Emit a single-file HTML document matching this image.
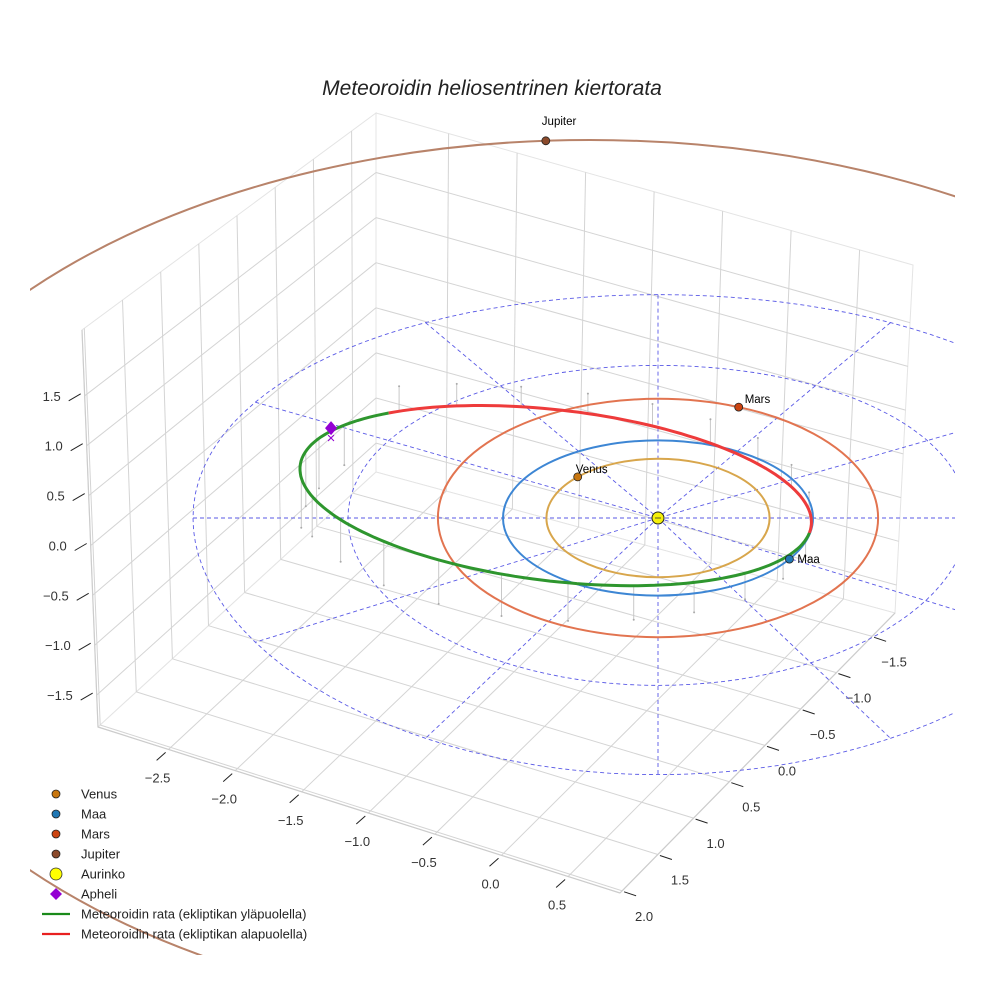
<!DOCTYPE html>
<html><head><meta charset="utf-8"><style>
html,body{margin:0;padding:0;background:#fff;}
svg{display:block;font-family:"Liberation Sans",sans-serif;}
</style></head><body>
<svg id="chart" width="984" height="984" viewBox="0 0 984 984" xmlns="http://www.w3.org/2000/svg">
<defs><clipPath id="axclip"><rect x="30" y="0" width="925" height="955"/></clipPath></defs>
<rect x="0" y="0" width="984" height="984" fill="#fff"/>
<text x="492" y="95" text-anchor="middle" font-size="21" font-style="italic" fill="#222">Meteoroidin heliosentrinen kiertorata</text>
<g id="grid"></g>
<g id="ticks"></g>
<g id="plot" clip-path="url(#axclip)"></g>
<g id="legend"></g>
</svg>
<script>
// ---- data ----
const xTicks = [-2.5, -2.0, -1.5, -1.0, -0.5, 0.0, 0.5];
const yTicks = [2.0, 1.5, 1.0, 0.5, 0.0, -0.5, -1.0, -1.5];
const zTicks = [-1.5, -1.0, -0.5, 0.0, 0.5, 1.0, 1.5];
const planetNames = ["Venus", "Maa", "Mars"];
const planetRx = [0.72, 1.0, 1.42];      // AU (projected semi-axis x)
const planetRy = [0.74, 0.97, 1.49];     // AU (projected semi-axis y)
const planetAngles = [224, 32, -68.5];   // degrees
const planetColors = ["#c8760f", "#1f77b4", "#cc4411"];
const orbitColors = ["#d8a64c", "#3d86d4", "#e27450"];
const gridRadii = [2, 3];
const spokeAngles = [0, 30, 60, 90, 120, 150];
const jupiterAngle = -93.4;
const meteorCenter = [-0.66, -0.28];     // AU
const meteorAxes = [1.66, 1.08];         // AU
const meteorTilt = 6.7;                  // degrees
const meteorRedRange = [227, 365];       // degrees of orbit below ecliptic
const stemAngles = [190,200,212,230,245,260,275,290,305,320,335,350,10,25,40,55,70,85,100,115,130,145,160,172];
const stemLengths = [55,50,40,-25,-22,-20,-20,-22,-24,-26,-22,-18,16,20,26,30,34,38,42,44,44,42,40,50];
const legendLabels = ["Venus","Maa","Mars","Jupiter","Aurinko","Apheli","Meteoroidin rata (ekliptikan yläpuolella)","Meteoroidin rata (ekliptikan alapuolella)"];

// ---- geometry ----
const NS="http://www.w3.org/2000/svg";
const SUN=[658,518], SX=155, SY=80;
function mk(tag, attrs, parent){const e=document.createElementNS(NS,tag);for(const k in attrs)e.setAttribute(k,attrs[k]);parent.appendChild(e);return e;}
function px(X){return SUN[0]+X*SX;}
function py(Y){return SUN[1]+Y*SY;}
function ecl(r,a){const c=Math.cos(a*Math.PI/180),s=Math.sin(a*Math.PI/180);
  return [px(r*c), py(r*s)+1.85*r*r*s*s];}
const L0=[98,727],F0=[620,893],R0=[895,613],B0=[376,472],L1=[82,330],B1=[376,113],R1=[913,265];
const XMIN=-3.03,XMAX=0.89,YMAX=2.03,YMIN=-1.82,ZMIN=-1.82,ZMAX=2.16;
function lerp(a,b,t){return [a[0]+(b[0]-a[0])*t,a[1]+(b[1]-a[1])*t];}
function ux(x){return (x-XMIN)/(XMAX-XMIN);}
function vy(y){return (YMAX-y)/(YMAX-YMIN);}
function wz(z){return (z-ZMIN)/(ZMAX-ZMIN);}

const grid=document.getElementById('grid');
const ticks=document.getElementById('ticks');
const plot=document.getElementById('plot');
const legend=document.getElementById('legend');
const GC="#d4d4d4";
function seg(p,q,attrs,parent,name){const l=mk('line',Object.assign({x1:p[0].toFixed(1),y1:p[1].toFixed(1),x2:q[0].toFixed(1),y2:q[1].toFixed(1)},attrs),parent);


return l;}

[[L0,B0,B1,L1],[B0,R0,R1,B1],[L0,F0,R0,B0]].forEach((q,i)=>{
  const p=mk('polygon',{points:q.map(a=>a.join(',')).join(' '),fill:'#fff',stroke:'#e4e4e4','stroke-width':1},grid);
  
  
});
xTicks.forEach(x=>{const u=ux(x);
  seg(lerp(L0,F0,u),lerp(B0,R0,u),{stroke:GC,'stroke-width':1},grid,'x-gridline');
  seg(lerp(B0,R0,u),lerp(B1,R1,u),{stroke:GC,'stroke-width':1},grid,'x-gridline');});
yTicks.forEach(y=>{const v=vy(y);
  seg(lerp(L0,B0,v),lerp(F0,R0,v),{stroke:GC,'stroke-width':1},grid,'y-gridline');
  seg(lerp(L0,B0,v),lerp(L1,B1,v),{stroke:GC,'stroke-width':1},grid,'y-gridline');});
zTicks.forEach(z=>{const w=wz(z);
  seg(lerp(L0,L1,w),lerp(B0,B1,w),{stroke:GC,'stroke-width':1},grid,'z-gridline');
  seg(lerp(B0,B1,w),lerp(R0,R1,w),{stroke:GC,'stroke-width':1},grid,'z-gridline');});
seg(L0,F0,{stroke:'#ccc','stroke-width':1.2},grid,'x-axis-line');
seg(F0,R0,{stroke:'#ccc','stroke-width':1.2},grid,'y-axis-line');
seg(L0,L1,{stroke:'#ccc','stroke-width':1.2},grid,'z-axis-line');

function lab(x,y,t,anchor,name){const e=mk('text',{x:x.toFixed(1),y:y.toFixed(1),'font-size':13,fill:'#333','text-anchor':anchor},ticks);e.textContent=t;

}
function fmt(v){return (v<0?'\u2212':'')+Math.abs(v).toFixed(1);}
xTicks.forEach(x=>{const p=lerp(L0,F0,ux(x));
  seg([p[0]-3,p[1]+3],[p[0]-12,p[1]+11],{stroke:'#222','stroke-width':1},ticks,'x-tick');
  lab(p[0]-11,p[1]+33,fmt(x),'middle','x-tick-label');});
yTicks.forEach(y=>{const p=lerp(F0,R0,vy(y));
  seg([p[0]+2,p[1]+1],[p[0]+14,p[1]+5],{stroke:'#222','stroke-width':1},ticks,'y-tick');
  lab(p[0]+22,p[1]+30,fmt(y),'middle','y-tick-label');});
zTicks.forEach(z=>{const p=lerp(L0,L1,wz(z));
  seg([p[0]-4,p[1]-2],[p[0]-16,p[1]+5],{stroke:'#222','stroke-width':1},ticks,'z-tick');
  lab(p[0]-24,p[1]+5,fmt(z),'end','z-tick-label');});

gridRadii.forEach(r=>{let d='';for(let a=0;a<=360;a+=3){const p=ecl(r,a);d+=(d?'L':'M')+p[0].toFixed(1)+','+p[1].toFixed(1);}
  const e=mk('path',{d:d+'Z',fill:'none',stroke:'#5a5ae6','stroke-width':0.9,'stroke-dasharray':'4,3'},plot);
  
  });
const RMAX=gridRadii[gridRadii.length-1];
spokeAngles.forEach(a=>{
  seg(ecl(RMAX,a+180),SUN,{stroke:'#5a5ae6','stroke-width':0.9,'stroke-dasharray':'4,3'},plot,'ecliptic-grid-spoke');
  seg(SUN,ecl(RMAX,a),{stroke:'#5a5ae6','stroke-width':0.9,'stroke-dasharray':'4,3'},plot,'ecliptic-grid-spoke');});

const JC=[590,580],JR=[745,440];
const jo=mk('ellipse',{cx:JC[0],cy:JC[1],rx:JR[0],ry:JR[1],fill:'none',stroke:'#b8836a','stroke-width':2},plot);



function meteorPt(tdeg){const t=tdeg*Math.PI/180,k=meteorTilt*Math.PI/180;
  const lx=meteorAxes[0]*SX*Math.cos(t), ly=meteorAxes[1]*SY*Math.sin(t)*0.99;
  return [px(meteorCenter[0])+lx*Math.cos(k)-ly*Math.sin(k), py(meteorCenter[1])+lx*Math.sin(k)+ly*Math.cos(k)];}
stemAngles.forEach((a,i)=>{const p=meteorPt(a),L=stemLengths[i];
  const q=[p[0],p[1]+L];
  seg(p,q,{stroke:'#c8c8c8','stroke-width':1},plot,'meteoroid-stem');
  const d=mk('circle',{cx:q[0],cy:q[1],r:1,fill:'#aaa'},plot);
  
  });

planetNames.forEach((n,i)=>{
  const e=mk('ellipse',{cx:SUN[0],cy:SUN[1],rx:planetRx[i]*SX,ry:planetRy[i]*SY,fill:'none',stroke:orbitColors[i],'stroke-width':2},plot);
  
  
});

function arc(a0,a1){let d='';const n=Math.ceil((a1-a0)/2);for(let i=0;i<=n;i++){const a=a0+(a1-a0)*i/n;const p=meteorPt(a);d+=(d?'L':'M')+p[0].toFixed(1)+','+p[1].toFixed(1);}return d;}
const g=mk('path',{d:arc(meteorRedRange[1]-360,meteorRedRange[0]),fill:'none',stroke:'#2e962e','stroke-width':3},plot);


const r=mk('path',{d:arc(meteorRedRange[0],meteorRedRange[1]),fill:'none',stroke:'#ee3b3b','stroke-width':3},plot);



const sun=mk('circle',{cx:SUN[0],cy:SUN[1],r:6,fill:'#f5f00a',stroke:'#222','stroke-width':1},plot);


mk('line',{x1:SUN[0]-3,y1:SUN[1],x2:SUN[0]+3,y2:SUN[1],stroke:'#333','stroke-width':0.8},plot);

const labelOff=[[-2,-4],[8,4],[6,-4]];
planetNames.forEach((n,i)=>{const t=planetAngles[i]*Math.PI/180;
  const x=px(planetRx[i]*Math.cos(t)), y=py(planetRy[i]*Math.sin(t));
  const c=mk('circle',{cx:x.toFixed(1),cy:y.toFixed(1),r:4,fill:planetColors[i],stroke:'#222','stroke-width':0.8},plot);
  
  
  const tx=mk('text',{x:(x+labelOff[i][0]).toFixed(1),y:(y+labelOff[i][1]).toFixed(1),'font-size':11.5,fill:'#000'},plot);
  tx.textContent=n;
  
  
});
{const t=jupiterAngle*Math.PI/180,x=JC[0]+JR[0]*Math.cos(t),y=JC[1]+JR[1]*Math.sin(t);
 const c=mk('circle',{cx:x.toFixed(1),cy:y.toFixed(1),r:4,fill:'#8b4a2b',stroke:'#222','stroke-width':0.8},plot);
 
 
 const tx=mk('text',{x:(x-4).toFixed(1),y:(y-16).toFixed(1),'font-size':11.5,fill:'#000'},plot);
 tx.textContent='Jupiter';
 
 }

{const p=meteorPt(209);
 const d=mk('polygon',{points:`${p[0]-6},${p[1]-7} ${p[0]},${p[1]} ${p[0]-6},${p[1]+7} ${p[0]-12},${p[1]}`,fill:'#9400d3'},plot);
 
 
 const x=mk('text',{x:p[0]-6,y:p[1]+15,'font-size':15,fill:'#9400d3','text-anchor':'middle'},plot);
 x.textContent='\u00d7';
 
 }

legendLabels.forEach((t,i)=>{const y=794+i*20;
  let m;
  if(i<4){m=mk('circle',{cx:56,cy:y,r:4,fill:['#c8760f','#1f77b4','#cc4411','#8b4a2b'][i],stroke:'#222','stroke-width':0.8},legend);}
  else if(i===4){m=mk('circle',{cx:56,cy:y,r:6,fill:'#ffff00',stroke:'#333','stroke-width':0.8},legend);}
  else if(i===5){m=mk('polygon',{points:`56,${y-6} 62,${y} 56,${y+6} 50,${y}`,fill:'#9400d3'},legend);}
  else {m=mk('line',{x1:42,y1:y,x2:70,y2:y,stroke:i===6?'#1a8a1a':'#e82020','stroke-width':2.2},legend);}
  
  
  const tx=mk('text',{x:81,y:y+4.5,'font-size':13,fill:'#222'},legend);
  tx.textContent=t;
  
  
});
</script>
</body></html>
